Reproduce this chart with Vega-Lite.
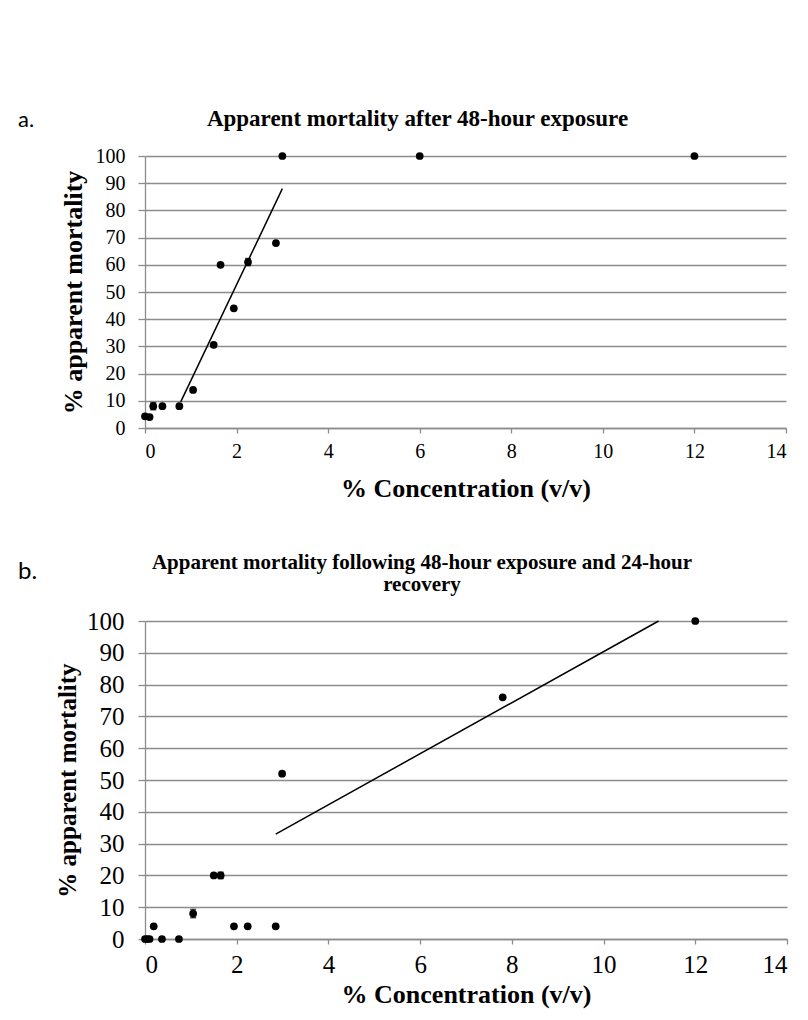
{
  "$schema": "https://vega.github.io/schema/vega-lite/v6.json",
  "background": "white",
  "padding": {"left": 17, "top": 107, "right": 5, "bottom": 5},
  "columns": 1,
  "align": "none",
  "spacing": 50,
  "config": {
    "view": {"stroke": null},
    "font": "Liberation Serif",
    "axis": {
      "gridColor": "#8c8c8c",
      "domainColor": "#8c8c8c",
      "tickColor": "#8c8c8c",
      "labelColor": "black",
      "titleColor": "black",
      "labelFont": "Liberation Serif",
      "titleFont": "Liberation Serif",
      "titleFontWeight": "bold",
      "labelOverlap": false,
      "domainWidth": 1.3,
      "gridWidth": 1.3,
      "tickWidth": 1.3
    }
  },
  "concat": [
    {
      "width": 641,
      "height": 272,
      "title": {"text": "Apparent mortality after 48-hour exposure", "font": "Liberation Serif", "fontSize": 23, "fontWeight": "bold", "color": "black", "anchor": "middle", "dx": -48, "offset": -21.5},
      "resolve": {"axis": {"x": "independent", "y": "independent"}},
      "layer": [
        {
          "data": {"values": [
            {"conc": 0, "mort": 4.3}, {"conc": 0.1, "mort": 4}, {"conc": 0.18, "mort": 8}, {"conc": 0.38, "mort": 8},
            {"conc": 0.75, "mort": 8}, {"conc": 1.05, "mort": 14}, {"conc": 1.5, "mort": 30.6}, {"conc": 1.65, "mort": 60},
            {"conc": 1.94, "mort": 44}, {"conc": 2.25, "mort": 61}, {"conc": 2.86, "mort": 68}, {"conc": 3, "mort": 100},
            {"conc": 6, "mort": 100}, {"conc": 12, "mort": 100}
          ]},
          "mark": {"type": "point", "filled": true, "color": "black", "size": 60, "opacity": 1},
          "encoding": {
            "x": {"field": "conc", "type": "quantitative", "scale": {"domain": [0, 14], "nice": false},
              "axis": {"values": [0, 2, 4, 6, 8, 10, 12, 14], "labelOverlap": false, "grid": false, "title": "% Concentration (v/v)", "labelFontSize": 20, "titleFontSize": 26, "tickSize": 5, "labelPadding": 8, "titlePadding": 14}},
            "y": {"field": "mort", "type": "quantitative", "scale": {"domain": [0, 100], "nice": false},
              "axis": {"values": [0, 10, 20, 30, 40, 50, 60, 70, 80, 90, 100], "labelOverlap": false, "grid": true, "title": "% apparent mortality", "labelFontSize": 20, "titleFontSize": 26, "tickSize": 7, "labelPadding": 13, "titlePadding": 9}}
          }
        },
        {
          "data": {"values": [{"conc": 0.18, "lo": 6.7, "hi": 9.3}, {"conc": 2.25, "lo": 59.7, "hi": 62.3}]},
          "mark": {"type": "errorbar", "ticks": {"size": 6}, "color": "black", "thickness": 1.5},
          "encoding": {
            "x": {"field": "conc", "type": "quantitative", "axis": null},
            "y": {"field": "lo", "type": "quantitative", "axis": null},
            "y2": {"field": "hi"}
          }
        },
        {
          "data": {"values": [{"conc": 0.78, "mort": 9.6}, {"conc": 3.0, "mort": 88}]},
          "mark": {"type": "line", "color": "black", "strokeWidth": 1.5},
          "encoding": {
            "x": {"field": "conc", "type": "quantitative", "axis": null},
            "y": {"field": "mort", "type": "quantitative", "axis": null}
          }
        },
        {
          "data": {"values": [{}]},
          "mark": {"type": "text", "font": "Lato", "fontSize": 22, "align": "left", "baseline": "middle", "clip": false, "color": "black"},
          "encoding": {"x": {"datum": -2.774, "type": "quantitative", "axis": null}, "y": {"datum": 113.2, "type": "quantitative", "axis": null}, "text": {"value": "a."}}
        }
      ]
    },
    {
      "width": 642,
      "height": 318,
      "title": {"text": ["Apparent mortality following 48-hour exposure and 24-hour", "recovery"], "font": "Liberation Serif", "fontSize": 21, "lineHeight": 22, "fontWeight": "bold", "color": "black", "anchor": "middle", "dx": -44, "offset": -34.5},
      "resolve": {"axis": {"x": "independent", "y": "independent"}},
      "layer": [
        {
          "data": {"values": [
            {"conc": 0, "mort": 0}, {"conc": 0.05, "mort": 0}, {"conc": 0.1, "mort": 0}, {"conc": 0.19, "mort": 4},
            {"conc": 0.37, "mort": 0}, {"conc": 0.74, "mort": 0}, {"conc": 1.05, "mort": 8}, {"conc": 1.5, "mort": 20},
            {"conc": 1.65, "mort": 20}, {"conc": 1.94, "mort": 4}, {"conc": 2.24, "mort": 4}, {"conc": 2.85, "mort": 4},
            {"conc": 2.99, "mort": 52}, {"conc": 7.8, "mort": 76}, {"conc": 12, "mort": 100}
          ]},
          "mark": {"type": "point", "filled": true, "color": "black", "size": 60, "opacity": 1},
          "encoding": {
            "x": {"field": "conc", "type": "quantitative", "scale": {"domain": [0, 14], "nice": false},
              "axis": {"values": [0, 2, 4, 6, 8, 10, 12, 14], "labelOverlap": false, "grid": false, "title": "% Concentration (v/v)", "labelFontSize": 25, "titleFontSize": 26, "tickSize": 5, "labelPadding": 8, "titlePadding": 4}},
            "y": {"field": "mort", "type": "quantitative", "scale": {"domain": [0, 100], "nice": false},
              "axis": {"values": [0, 10, 20, 30, 40, 50, 60, 70, 80, 90, 100], "labelOverlap": false, "grid": true, "title": "% apparent  mortality", "labelFontSize": 25, "titleFontSize": 25, "tickSize": 7, "labelPadding": 14, "titlePadding": 6}}
          }
        },
        {
          "data": {"values": [{"conc": 1.05, "lo": 6.7, "hi": 9.3}, {"conc": 1.65, "lo": 19, "hi": 21}]},
          "mark": {"type": "errorbar", "ticks": {"size": 6}, "color": "black", "thickness": 1.5},
          "encoding": {
            "x": {"field": "conc", "type": "quantitative", "axis": null},
            "y": {"field": "lo", "type": "quantitative", "axis": null},
            "y2": {"field": "hi"}
          }
        },
        {
          "data": {"values": [{"conc": 2.85, "mort": 33}, {"conc": 11.2, "mort": 100}]},
          "mark": {"type": "line", "color": "black", "strokeWidth": 1.5},
          "encoding": {
            "x": {"field": "conc", "type": "quantitative", "axis": null},
            "y": {"field": "mort", "type": "quantitative", "axis": null}
          }
        },
        {
          "data": {"values": [{}]},
          "mark": {"type": "text", "font": "Lato", "fontSize": 24, "align": "left", "baseline": "middle", "clip": false, "color": "black"},
          "encoding": {"x": {"datum": -2.769, "type": "quantitative", "axis": null}, "y": {"datum": 115.4, "type": "quantitative", "axis": null}, "text": {"value": "b."}}
        }
      ]
    }
  ]
}
